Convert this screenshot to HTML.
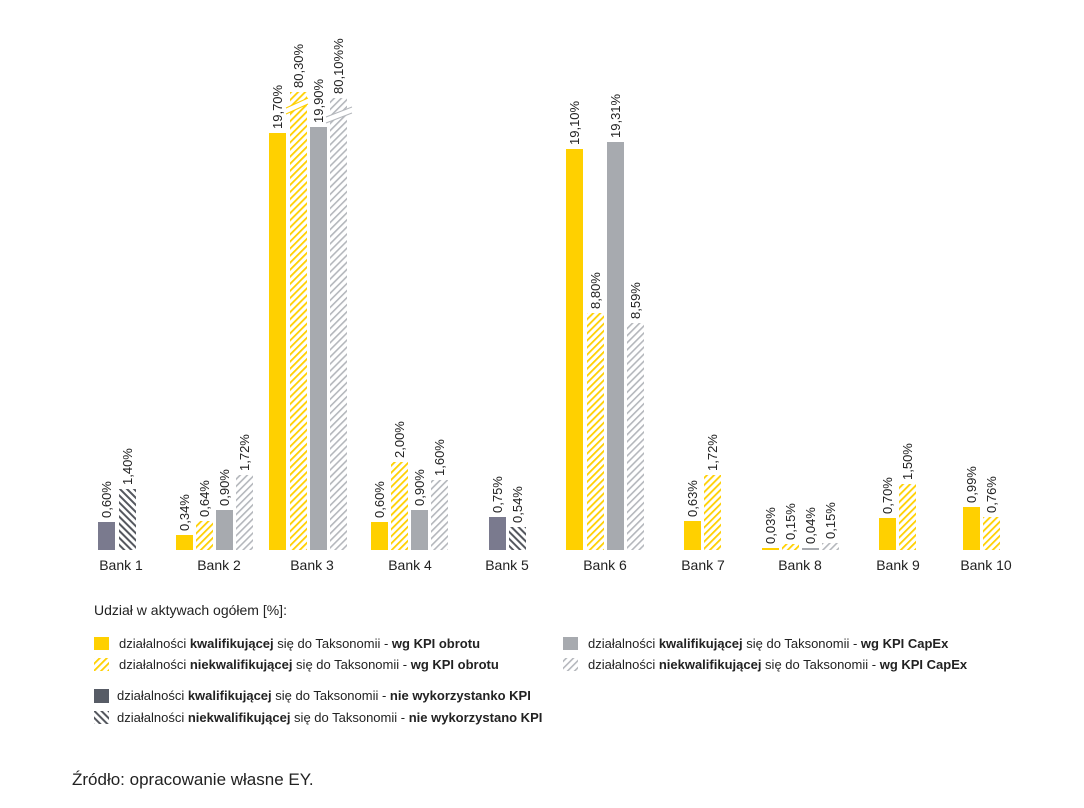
<!DOCTYPE html>
<html><head><meta charset="utf-8"><style>
body{margin:0;background:#fff;}
svg{display:block;font-family:"Liberation Sans",sans-serif;}
.v{font-size:13px;fill:#222;}
.b{font-size:14px;fill:#222;}
.l{font-size:13px;fill:#222;}
</style></head><body>
<svg width="1084" height="808" viewBox="0 0 1084 808">
<defs>
<pattern id="hy" width="5" height="5" patternUnits="userSpaceOnUse" patternTransform="rotate(-45)"><rect width="5" height="5" fill="#fff"/><rect width="5" height="1.8" fill="#ffd000"/></pattern>
<pattern id="hg" width="5" height="5" patternUnits="userSpaceOnUse" patternTransform="rotate(-45)"><rect width="5" height="5" fill="#fff"/><rect width="5" height="1.6" fill="#b4b7bc"/></pattern>
<pattern id="hd" width="5" height="5" patternUnits="userSpaceOnUse" patternTransform="rotate(45)"><rect width="5" height="5" fill="#fff"/><rect width="5" height="2" fill="#55585f"/></pattern>
</defs>
<g>
<rect x="98" y="522" width="17" height="28" fill="#7a7a8e"/>
<rect x="119" y="489" width="17" height="61" fill="url(#hd)"/>
<rect x="176" y="535" width="17" height="15" fill="#ffd000"/>
<rect x="196" y="521" width="17" height="29" fill="url(#hy)"/>
<rect x="216" y="510" width="17" height="40" fill="#a7aaaf"/>
<rect x="236" y="475" width="17" height="75" fill="url(#hg)"/>
<rect x="269" y="133" width="17" height="417" fill="#ffd000"/>
<rect x="290" y="92" width="17" height="458" fill="url(#hy)"/>
<rect x="310" y="127" width="17" height="423" fill="#a7aaaf"/>
<rect x="330" y="98" width="17" height="452" fill="url(#hg)"/>
<polygon points="286,108 308,98 308,104 286,114" fill="#fff"/>
<line x1="286" y1="108" x2="308" y2="98" stroke="#ffd000" stroke-width="1"/>
<line x1="286" y1="114" x2="308" y2="104" stroke="#ffd000" stroke-width="1"/>
<polygon points="326,117 352,107 352,113 326,123" fill="#fff"/>
<line x1="326" y1="117" x2="352" y2="107" stroke="#b4b7bc" stroke-width="1"/>
<line x1="326" y1="123" x2="352" y2="113" stroke="#b4b7bc" stroke-width="1"/>
<rect x="371" y="522" width="17" height="28" fill="#ffd000"/>
<rect x="391" y="462" width="17" height="88" fill="url(#hy)"/>
<rect x="411" y="510" width="17" height="40" fill="#a7aaaf"/>
<rect x="431" y="480" width="17" height="70" fill="url(#hg)"/>
<rect x="489" y="517" width="17" height="33" fill="#7a7a8e"/>
<rect x="509" y="527" width="17" height="23" fill="url(#hd)"/>
<rect x="566" y="149" width="17" height="401" fill="#ffd000"/>
<rect x="587" y="313" width="17" height="237" fill="url(#hy)"/>
<rect x="607" y="142" width="17" height="408" fill="#a7aaaf"/>
<rect x="627" y="323" width="17" height="227" fill="url(#hg)"/>
<rect x="684" y="521" width="17" height="29" fill="#ffd000"/>
<rect x="704" y="475" width="17" height="75" fill="url(#hy)"/>
<rect x="762" y="548" width="17" height="2" fill="#ffd000"/>
<rect x="782" y="544" width="17" height="6" fill="url(#hy)"/>
<rect x="802" y="548" width="17" height="2" fill="#a7aaaf"/>
<rect x="822" y="543" width="17" height="7" fill="url(#hg)"/>
<rect x="879" y="518" width="17" height="32" fill="#ffd000"/>
<rect x="899" y="484" width="17" height="66" fill="url(#hy)"/>
<rect x="963" y="507" width="17" height="43" fill="#ffd000"/>
<rect x="983" y="517" width="17" height="33" fill="url(#hy)"/>
</g>
<g class="v">
<text transform="translate(111,518) rotate(-90)">0,60%</text>
<text transform="translate(132,485) rotate(-90)">1,40%</text>
<text transform="translate(189,531) rotate(-90)">0,34%</text>
<text transform="translate(209,517) rotate(-90)">0,64%</text>
<text transform="translate(229,506) rotate(-90)">0,90%</text>
<text transform="translate(249,471) rotate(-90)">1,72%</text>
<text transform="translate(282,129) rotate(-90)">19,70%</text>
<text transform="translate(303,88) rotate(-90)">80,30%</text>
<text transform="translate(323,123) rotate(-90)">19,90%</text>
<text transform="translate(343,94) rotate(-90)">80,10%%</text>
<text transform="translate(384,518) rotate(-90)">0,60%</text>
<text transform="translate(404,458) rotate(-90)">2,00%</text>
<text transform="translate(424,506) rotate(-90)">0,90%</text>
<text transform="translate(444,476) rotate(-90)">1,60%</text>
<text transform="translate(502,513) rotate(-90)">0,75%</text>
<text transform="translate(522,523) rotate(-90)">0,54%</text>
<text transform="translate(579,145) rotate(-90)">19,10%</text>
<text transform="translate(600,309) rotate(-90)">8,80%</text>
<text transform="translate(620,138) rotate(-90)">19,31%</text>
<text transform="translate(640,319) rotate(-90)">8,59%</text>
<text transform="translate(697,517) rotate(-90)">0,63%</text>
<text transform="translate(717,471) rotate(-90)">1,72%</text>
<text transform="translate(775,544) rotate(-90)">0,03%</text>
<text transform="translate(795,540) rotate(-90)">0,15%</text>
<text transform="translate(815,544) rotate(-90)">0,04%</text>
<text transform="translate(835,539) rotate(-90)">0,15%</text>
<text transform="translate(892,514) rotate(-90)">0,70%</text>
<text transform="translate(912,480) rotate(-90)">1,50%</text>
<text transform="translate(976,503) rotate(-90)">0,99%</text>
<text transform="translate(996,513) rotate(-90)">0,76%</text>
</g>
<g class="b" text-anchor="middle">
<text x="121" y="570">Bank 1</text>
<text x="219" y="570">Bank 2</text>
<text x="312" y="570">Bank 3</text>
<text x="410" y="570">Bank 4</text>
<text x="507" y="570">Bank 5</text>
<text x="605" y="570">Bank 6</text>
<text x="703" y="570">Bank 7</text>
<text x="800" y="570">Bank 8</text>
<text x="898" y="570">Bank 9</text>
<text x="986" y="570">Bank 10</text>
</g>
<text x="94" y="615" style="font-size:14px;fill:#222">Udział w aktywach ogółem [%]:</text>
<g class="l">
<rect x="94" y="637" width="15" height="13" fill="#ffd000"/>
<text x="119" y="648">działalności <tspan font-weight="bold">kwalifikującej</tspan> się do Taksonomii - <tspan font-weight="bold">wg KPI obrotu</tspan></text>
<rect x="94" y="658" width="15" height="13" fill="url(#hy)"/>
<text x="119" y="669">działalności <tspan font-weight="bold">niekwalifikującej</tspan> się do Taksonomii - <tspan font-weight="bold">wg KPI obrotu</tspan></text>
<rect x="563" y="637" width="15" height="13" fill="#a7aaaf"/>
<text x="588" y="648">działalności <tspan font-weight="bold">kwalifikującej</tspan> się do Taksonomii - <tspan font-weight="bold">wg KPI CapEx</tspan></text>
<rect x="563" y="658" width="15" height="13" fill="url(#hg)"/>
<text x="588" y="669">działalności <tspan font-weight="bold">niekwalifikującej</tspan> się do Taksonomii - <tspan font-weight="bold">wg KPI CapEx</tspan></text>
<rect x="94" y="689" width="15" height="14" fill="#575c66"/>
<text x="117" y="700">działalności <tspan font-weight="bold">kwalifikującej</tspan> się do Taksonomii - <tspan font-weight="bold">nie wykorzystanko KPI</tspan></text>
<rect x="94" y="711" width="15" height="13" fill="url(#hd)"/>
<text x="117" y="722">działalności <tspan font-weight="bold">niekwalifikującej</tspan> się do Taksonomii - <tspan font-weight="bold">nie wykorzystano KPI</tspan></text>
</g>
<text x="72" y="785" style="font-size:17px;fill:#222">Źródło: opracowanie własne EY.</text>
</svg>
</body></html>
